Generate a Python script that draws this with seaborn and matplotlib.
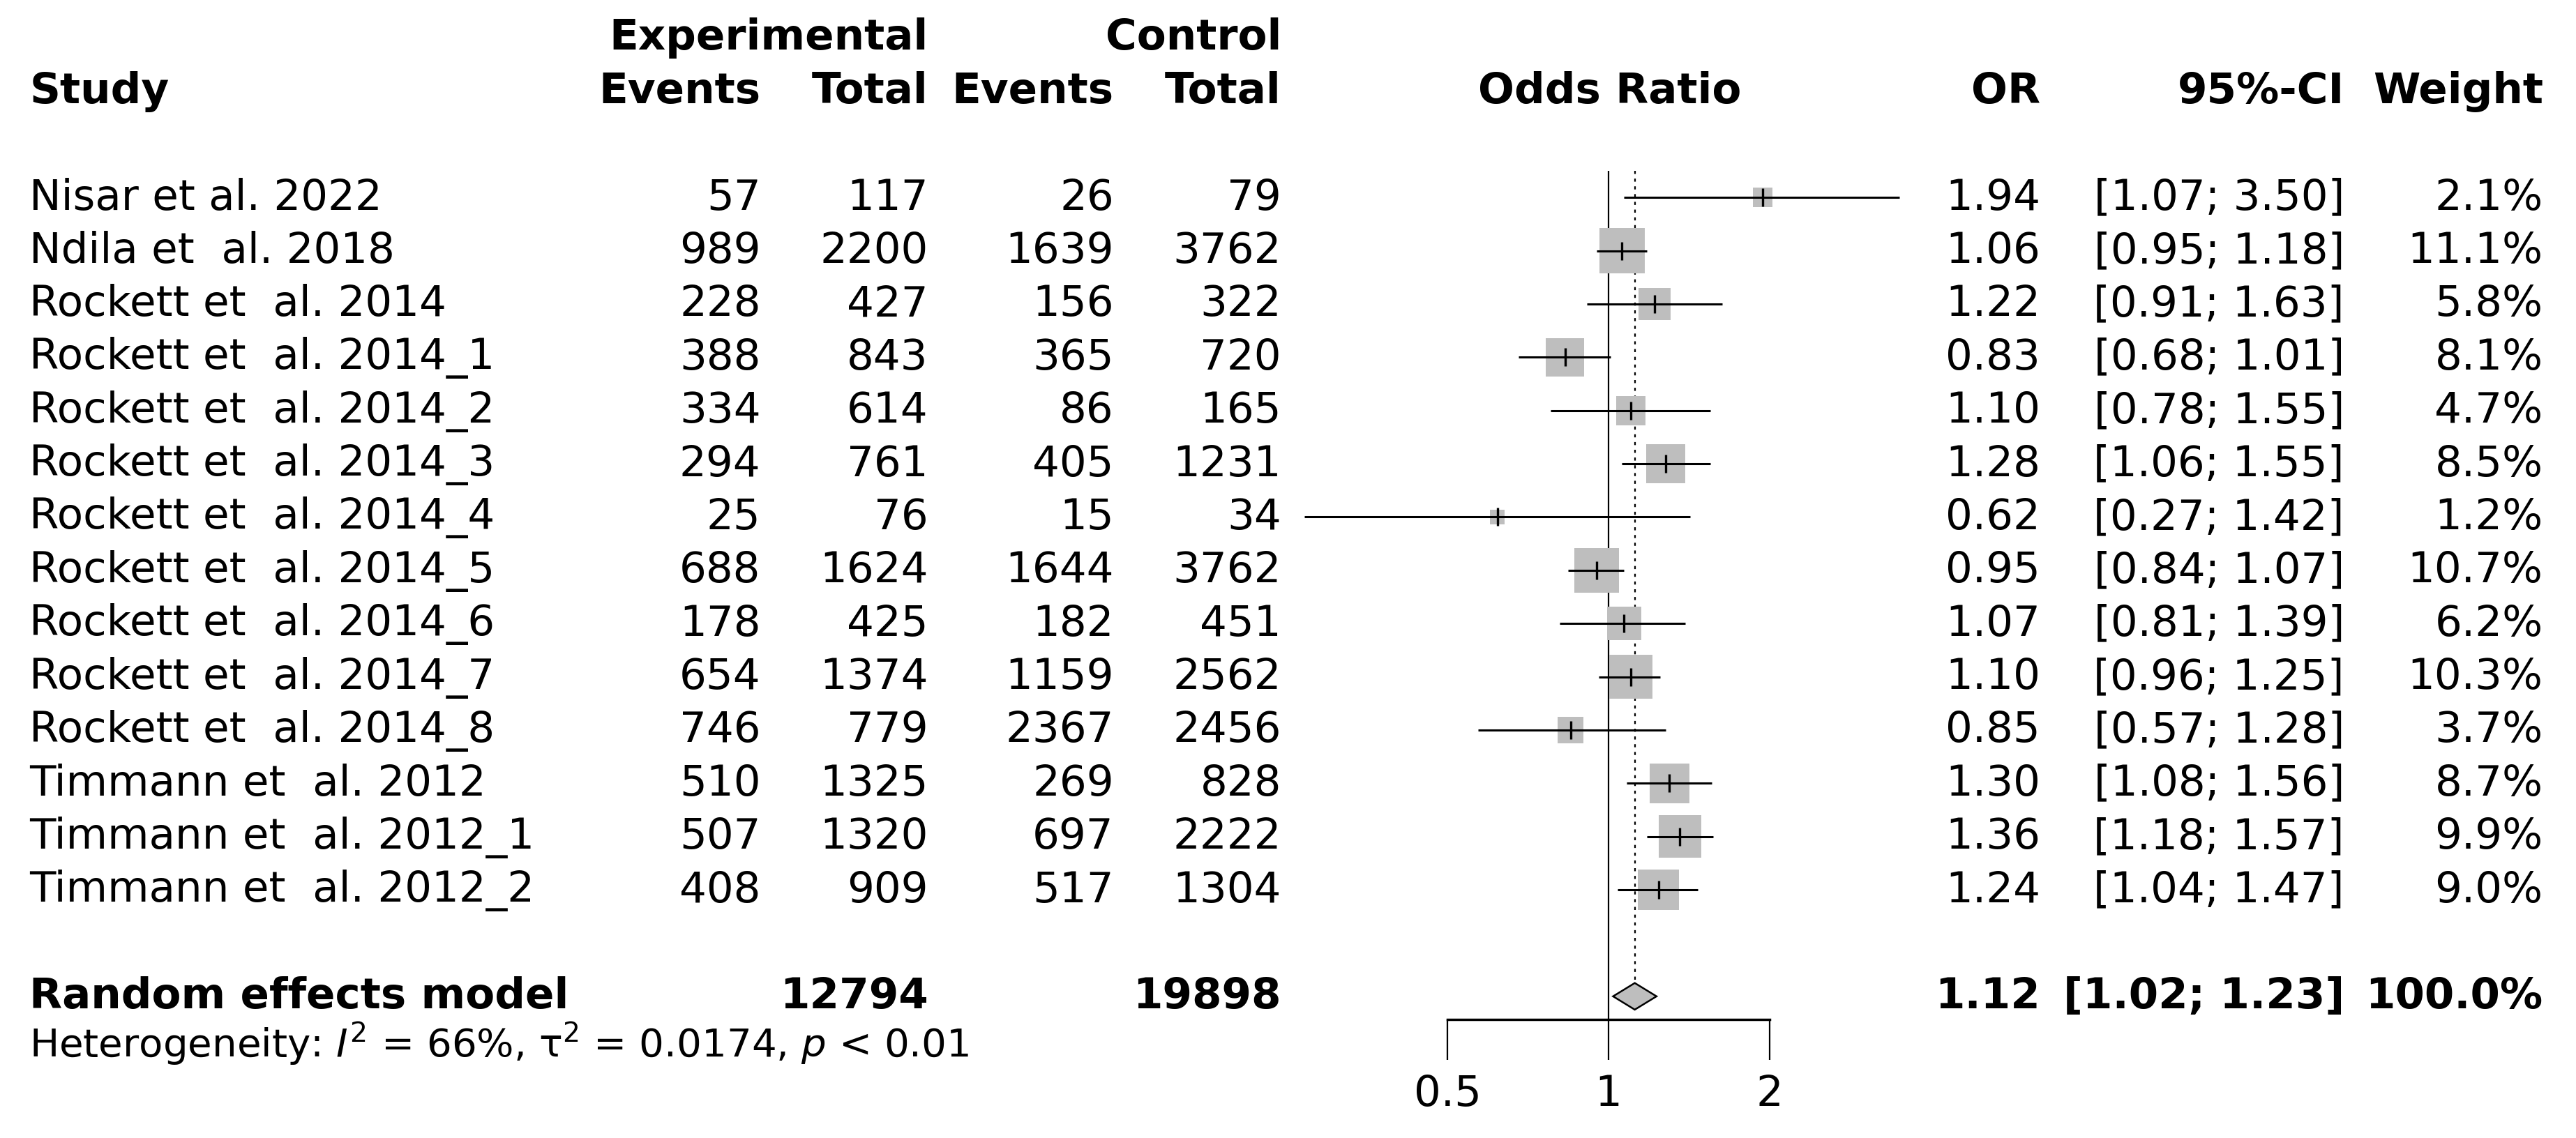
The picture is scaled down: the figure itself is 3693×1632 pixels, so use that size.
import numpy as np
import matplotlib
matplotlib.use("Agg")
import matplotlib.pyplot as plt
import matplotlib.transforms as mtransforms
import pandas as pd
import seaborn as sns

# dados do forest plot
estudos = ["Nisar et al. 2022", "Ndila et  al. 2018", "Rockett et  al. 2014",
           "Rockett et  al. 2014_1", "Rockett et  al. 2014_2", "Rockett et  al. 2014_3",
           "Rockett et  al. 2014_4", "Rockett et  al. 2014_5", "Rockett et  al. 2014_6",
           "Rockett et  al. 2014_7", "Rockett et  al. 2014_8", "Timmann et  al. 2012",
           "Timmann et  al. 2012_1", "Timmann et  al. 2012_2"]
exp_eventos = [57, 989, 228, 388, 334, 294, 25, 688, 178, 654, 746, 510, 507, 408]
exp_total = [117, 2200, 427, 843, 614, 761, 76, 1624, 425, 1374, 779, 1325, 1320, 909]
ctrl_eventos = [26, 1639, 156, 365, 86, 405, 15, 1644, 182, 1159, 2367, 269, 697, 517]
ctrl_total = [79, 3762, 322, 720, 165, 1231, 34, 3762, 451, 2562, 2456, 828, 2222, 1304]
odds = [1.94, 1.06, 1.22, 0.83, 1.10, 1.28, 0.62, 0.95, 1.07, 1.10, 0.85, 1.30, 1.36, 1.24]
ic_inf = [1.07, 0.95, 0.91, 0.68, 0.78, 1.06, 0.27, 0.84, 0.81, 0.96, 0.57, 1.08, 1.18, 1.04]
ic_sup = [3.50, 1.18, 1.63, 1.01, 1.55, 1.55, 1.42, 1.07, 1.39, 1.25, 1.28, 1.56, 1.57, 1.47]
peso = [2.1, 11.1, 5.8, 8.1, 4.7, 8.5, 1.2, 10.7, 6.2, 10.3, 3.7, 8.7, 9.9, 9.0]

# modelo de efeitos aleatorios
re_or = 1.12
re_inf = 1.02
re_sup = 1.23
re_exp_total = 12794
re_ctrl_total = 19898
heterog = r"Heterogeneity: $I^2$ = 66%, τ$^2$ = 0.0174, $p$ < 0.01"

ticks_x = [0.5, 1, 2]
ticks_lab = ["0.5", "1", "2"]

df = pd.DataFrame({"estudo": estudos, "OR": odds, "inf": ic_inf,
                   "sup": ic_sup, "peso": peso})
df["linha"] = np.arange(len(df))
linha_re = len(df) + 1

sns.set_theme(style="white")
plt.rcParams['font.family'] = ['DejaVu Sans']
plt.rcParams['text.color'] = 'black'
plt.rcParams['xtick.color'] = 'black'
plt.rcParams['axes.edgecolor'] = 'black'
fs = 44

fig = plt.figure(figsize=(36.93, 16.33), dpi=100)
ax = fig.add_axes([0.5619, 0.0, 0.1250, 1.0])
ax.set_xscale("log", base=2)
ax.set_xlim(0.5, 2)
ax.set_ylim(17.66, -3.72)

# linhas de referencia
ax.vlines(1, -0.5, 15.43, color="black", lw=1.6, clip_on=False)
ax.vlines(re_or, -0.5, linha_re - 0.27, color="black", lw=1.6,
          linestyles=(0, (2, 3)), clip_on=False)

# caixas (area proporcional ao peso)
k = 195
sns.scatterplot(data=df, x="OR", y="linha", size="peso",
                sizes=(k * min(peso), k * max(peso)), marker="s",
                color="#bebebe", edgecolor="none", legend=False,
                ax=ax, clip_on=False, zorder=2)
ax.hlines(df["linha"], df["inf"], df["sup"], color="black", lw=2.2,
          clip_on=False, zorder=3)
ax.scatter(df["OR"], df["linha"], marker="|", s=340, color="black",
           linewidths=2.4, clip_on=False, zorder=4)

# diamante
ax.fill([re_inf, re_or, re_sup, re_or], [linha_re, linha_re - 0.25, linha_re, linha_re + 0.25],
        facecolor="#bebebe", edgecolor="black", lw=1.8, clip_on=False, zorder=3)

# eixo x
for s in ["top", "right", "left"]:
    ax.spines[s].set_visible(False)
ax.spines["bottom"].set_position(("data", 15.43))
ax.spines["bottom"].set_linewidth(2.5)
ax.set_xticks(ticks_x)
ax.set_xticklabels(ticks_lab)
ax.xaxis.set_minor_locator(matplotlib.ticker.NullLocator())
ax.tick_params(axis="x", direction="out", length=42, width=1.6, pad=14,
               labelsize=fs, bottom=True, colors="black")
ax.set_yticks([])
ax.set_xlabel("")
ax.set_ylabel("")

# colunas de texto
tr = mtransforms.blended_transform_factory(fig.transFigure, ax.transData)
col_estudo = 0.0115
col_ee = 0.2953
col_et = 0.3603
col_ce = 0.4324
col_ct = 0.4974
col_or = 0.7921
col_ic = 0.9101
col_w = 0.9872

def txt(x, y, s, ha="right", bold=False):
    ax.text(x, y, s, transform=tr, ha=ha, va="center", fontsize=fs,
            fontweight="bold" if bold else "normal", color="black")

# cabecalho
txt(col_et, -3, "Experimental", bold=True)
txt(col_ct, -3, "Control", bold=True)
txt(col_estudo, -2, "Study", ha="left", bold=True)
txt(col_ee, -2, "Events", bold=True)
txt(col_et, -2, "Total", bold=True)
txt(col_ce, -2, "Events", bold=True)
txt(col_ct, -2, "Total", bold=True)
txt(0.625, -2, "Odds Ratio", ha="center", bold=True)
txt(col_or, -2, "OR", bold=True)
txt(col_ic, -2, "95%-CI", bold=True)
txt(col_w, -2, "Weight", bold=True)

for i in range(len(estudos)):
    txt(col_estudo, i, estudos[i], ha="left")
    txt(col_ee, i, str(exp_eventos[i]))
    txt(col_et, i, str(exp_total[i]))
    txt(col_ce, i, str(ctrl_eventos[i]))
    txt(col_ct, i, str(ctrl_total[i]))
    txt(col_or, i, f"{odds[i]:.2f}")
    txt(col_ic, i, f"[{ic_inf[i]:.2f}; {ic_sup[i]:.2f}]")
    txt(col_w, i, f"{peso[i]:.1f}%")

txt(col_estudo, linha_re, "Random effects model", ha="left", bold=True)
txt(col_et, linha_re, str(re_exp_total), bold=True)
txt(col_ct, linha_re, str(re_ctrl_total), bold=True)
txt(col_or, linha_re, f"{re_or:.2f}", bold=True)
txt(col_ic, linha_re, f"[{re_inf:.2f}; {re_sup:.2f}]", bold=True)
txt(col_w, linha_re, "100.0%", bold=True)
ax.text(col_estudo, linha_re + 0.88, heterog, transform=tr, ha="left",
        va="center", fontsize=fs - 3.5, color="black")

fig.savefig("out.png", dpi=100, facecolor="white")
